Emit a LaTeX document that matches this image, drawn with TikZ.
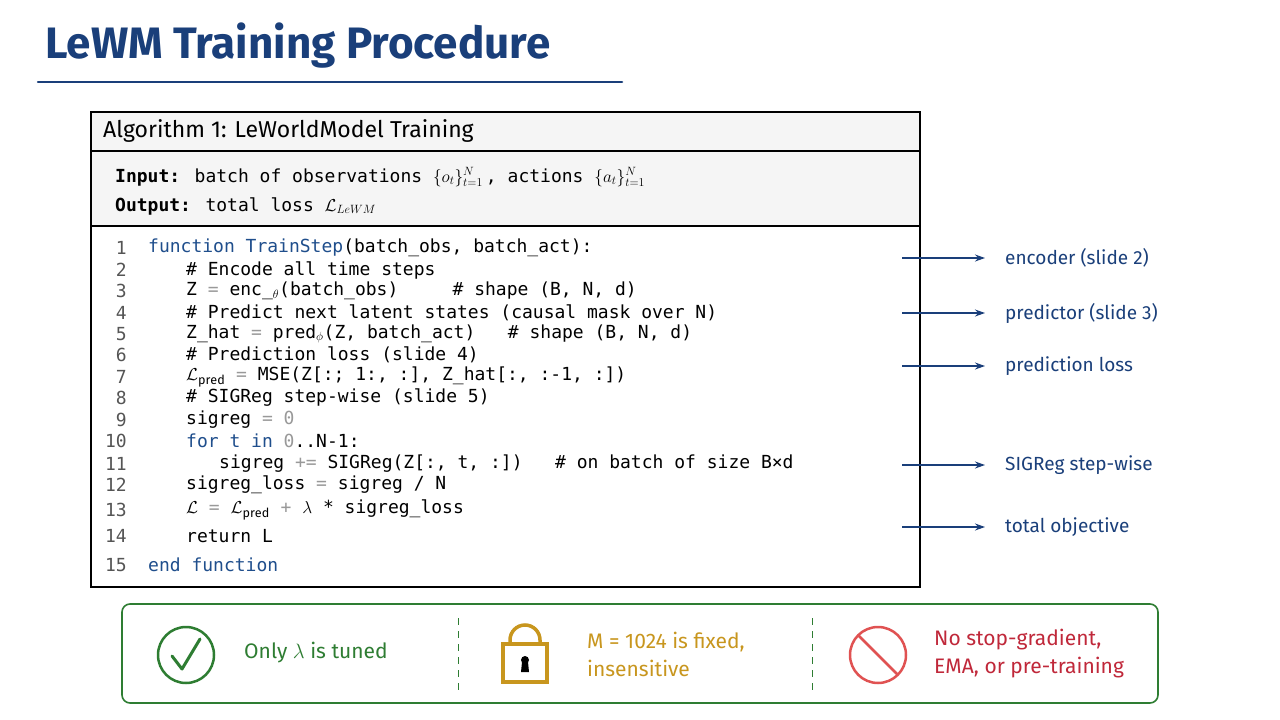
\documentclass[tikz,border=0pt]{standalone}
\usepackage{fontspec}
\setmainfont{Fira Sans}
\newfontfamily\codefont{DejaVu Sans Mono}
\newfontfamily\handfont{Fira Sans}
\usetikzlibrary{arrows.meta,calc}
\definecolor{navy}{HTML}{1A3F7A}
\definecolor{kw}{HTML}{1F4E8C}
\definecolor{gnum}{HTML}{555555}
\definecolor{op}{HTML}{999999}
\definecolor{grn}{HTML}{2E7D32}
\definecolor{gold}{HTML}{C8961E}
\definecolor{redc}{HTML}{E05252}
\definecolor{redt}{HTML}{C0283A}
\begin{document}
\begin{tikzpicture}[x=1pt,y=-1pt,
  code/.style={anchor=west,inner sep=0pt,font=\codefont\fontsize{18}{20}\selectfont,text=black},
  num/.style={anchor=east,inner sep=0pt,font=\codefont\fontsize{18}{20}\selectfont,text=gnum},
  lbl/.style={anchor=west,inner sep=0pt,font=\handfont\fontsize{19}{22}\selectfont,text=navy},
  arr/.style={-{Stealth[length=10pt,width=7pt]},navy,line width=1.2pt},
  hdr/.style={anchor=west,inner sep=0pt,font=\handfont\fontsize{23}{26}\selectfont},
  note/.style={anchor=west,inner sep=0pt,align=left,font=\handfont\fontsize{21}{28}\selectfont}]
\useasboundingbox[fill=white] (0,0) rectangle (1280,720);
\newcommand{\kwd}[1]{\textcolor{kw}{#1}}
\newcommand{\opc}[1]{\textcolor{op}{#1}}
% title
\node[anchor=west,inner sep=0pt,text=navy,font=\handfont\bfseries\fontsize{44}{48}\selectfont] (title) at (45,46) {LeWM Training Procedure};
\draw[navy,line width=2.5pt,line cap=round] (38,82) -- (622,82);
% algorithm box
\fill[gray!8] (91,112) rectangle (920,226);
\draw[line width=1.4pt] (91,112) rectangle (920,587);
\draw[line width=1.4pt] (91,151) -- (920,151);
\draw[line width=1.4pt] (91,226) -- (920,226);
\node[hdr] (alg) at (103,131) {Algorithm 1: LeWorldModel Training};
\node[code] (inp) at (115,177) {\textbf{Input:} batch of observations $\{o_t\}_{t=1}^{N}$\,, actions $\{a_t\}_{t=1}^{N}$};
\node[code] (out) at (115,206) {\textbf{Output:} total loss $\mathcal{L}_{LeWM}$};
% code lines
\foreach \n/\y in {1/248,2/270,3/291,4/313,5/334,6/355,7/377,8/398,9/420,10/441,11/464,12/485,13/510,14/536,15/565}
  \node[num] (n\n) at (127,\y) {\n};
\node[code] (c1) at (148,248) {\kwd{function} \kwd{TrainStep}(batch\_obs, batch\_act):};
\node[code] (c2) at (186,270) {\# Encode all time steps};
\node[code] (c3) at (186,291) {Z \opc{=} enc\_$_\theta$(batch\_obs)\ \ \ \ \ \# shape (B, N, d)};
\node[code] (c4) at (186,313) {\# Predict next latent states (causal mask over N)};
\node[code] (c5) at (186,334) {Z\_hat \opc{=} pred$_\phi$(Z, batch\_act)\ \ \ \# shape (B, N, d)};
\node[code] (c6) at (186,355) {\# Prediction loss (slide 4)};
\node[code] (c7) at (186,377) {$\mathcal{L}_{\mathrm{pred}}$ \opc{=} MSE(Z[:; 1:, :], Z\_hat[:, :-1, :])};
\node[code] (c8) at (186,398) {\# SIGReg step-wise (slide 5)};
\node[code] (c9) at (186,420) {sigreg \opc{=} \opc{0}};
\node[code] (c10) at (186,441) {\kwd{for} \kwd{t} \kwd{in} \opc{0}..N-1:};
\node[code] (c11) at (219,464) {sigreg \opc{+=} SIGReg(Z[:, t, :])\ \ \ \# on batch of size B×d};
\node[code] (c12) at (186,485) {sigreg\_loss \opc{=} sigreg / N};
\node[code] (c13) at (186,510) {$\mathcal{L}$ \opc{=} $\mathcal{L}_{\mathrm{pred}}$ \opc{+} $\lambda$ * sigreg\_loss};
\node[code] (c14) at (186,536) {return L};
\node[code] (c15) at (148,565) {\kwd{end} \kwd{function}};
% annotations
\foreach \i/\y/\t in {1/258/encoder (slide 2),2/313/predictor (slide 3),3/366/prediction loss,4/465/SIGReg step-wise,5/527/total objective}{
  \node[lbl] (l\i) at (1005,\y) {\t};
  \coordinate (s\i) at (902,\y);
  \coordinate (e\i) at (985,\y);
  \draw[arr] (s\i) -- (e\i);
}
% bottom panel
\draw[grn,line width=1.6pt,rounded corners=8pt] (122,604) rectangle (1158,703);
\draw[grn,line width=1pt,dash pattern=on 7pt off 6pt] (458,618) -- (458,692);
\draw[grn,line width=1pt,dash pattern=on 7pt off 6pt] (812,618) -- (812,692);
% check
\draw[grn,line width=2.5pt] (186,655) circle (28);
\draw[grn,line width=3pt,line cap=round,line join=round] (172,656) -- (182,669) -- (200,639);
\node[note,text=grn] (t1) at (244,653) {Only $\lambda$ is tuned};
% lock
\draw[gold,line width=3.5pt] (510,644) -- (510,640) arc (180:360:15) -- (540,644);
\draw[gold,line width=3.5pt,fill=white] (503,644) rectangle (547,682);
\fill[black] (525,660) circle (4);
\fill[black] (522,662) -- (528,662) -- (529,672) -- (521,672) -- cycle;
\node[note,text=gold] (t2) at (587,654) {M = 1024 is fixed,\\insensitive};
% no sign
\draw[redc,line width=2.5pt] (878,655) circle (28);
\draw[redc,line width=2.5pt] ($(878,655)+(225:28)$) -- ($(878,655)+(45:28)$);
\node[note,text=redt] (t3) at (934,654) {No stop-gradient,\\EMA, or pre-training};
\end{tikzpicture}
\end{document}
